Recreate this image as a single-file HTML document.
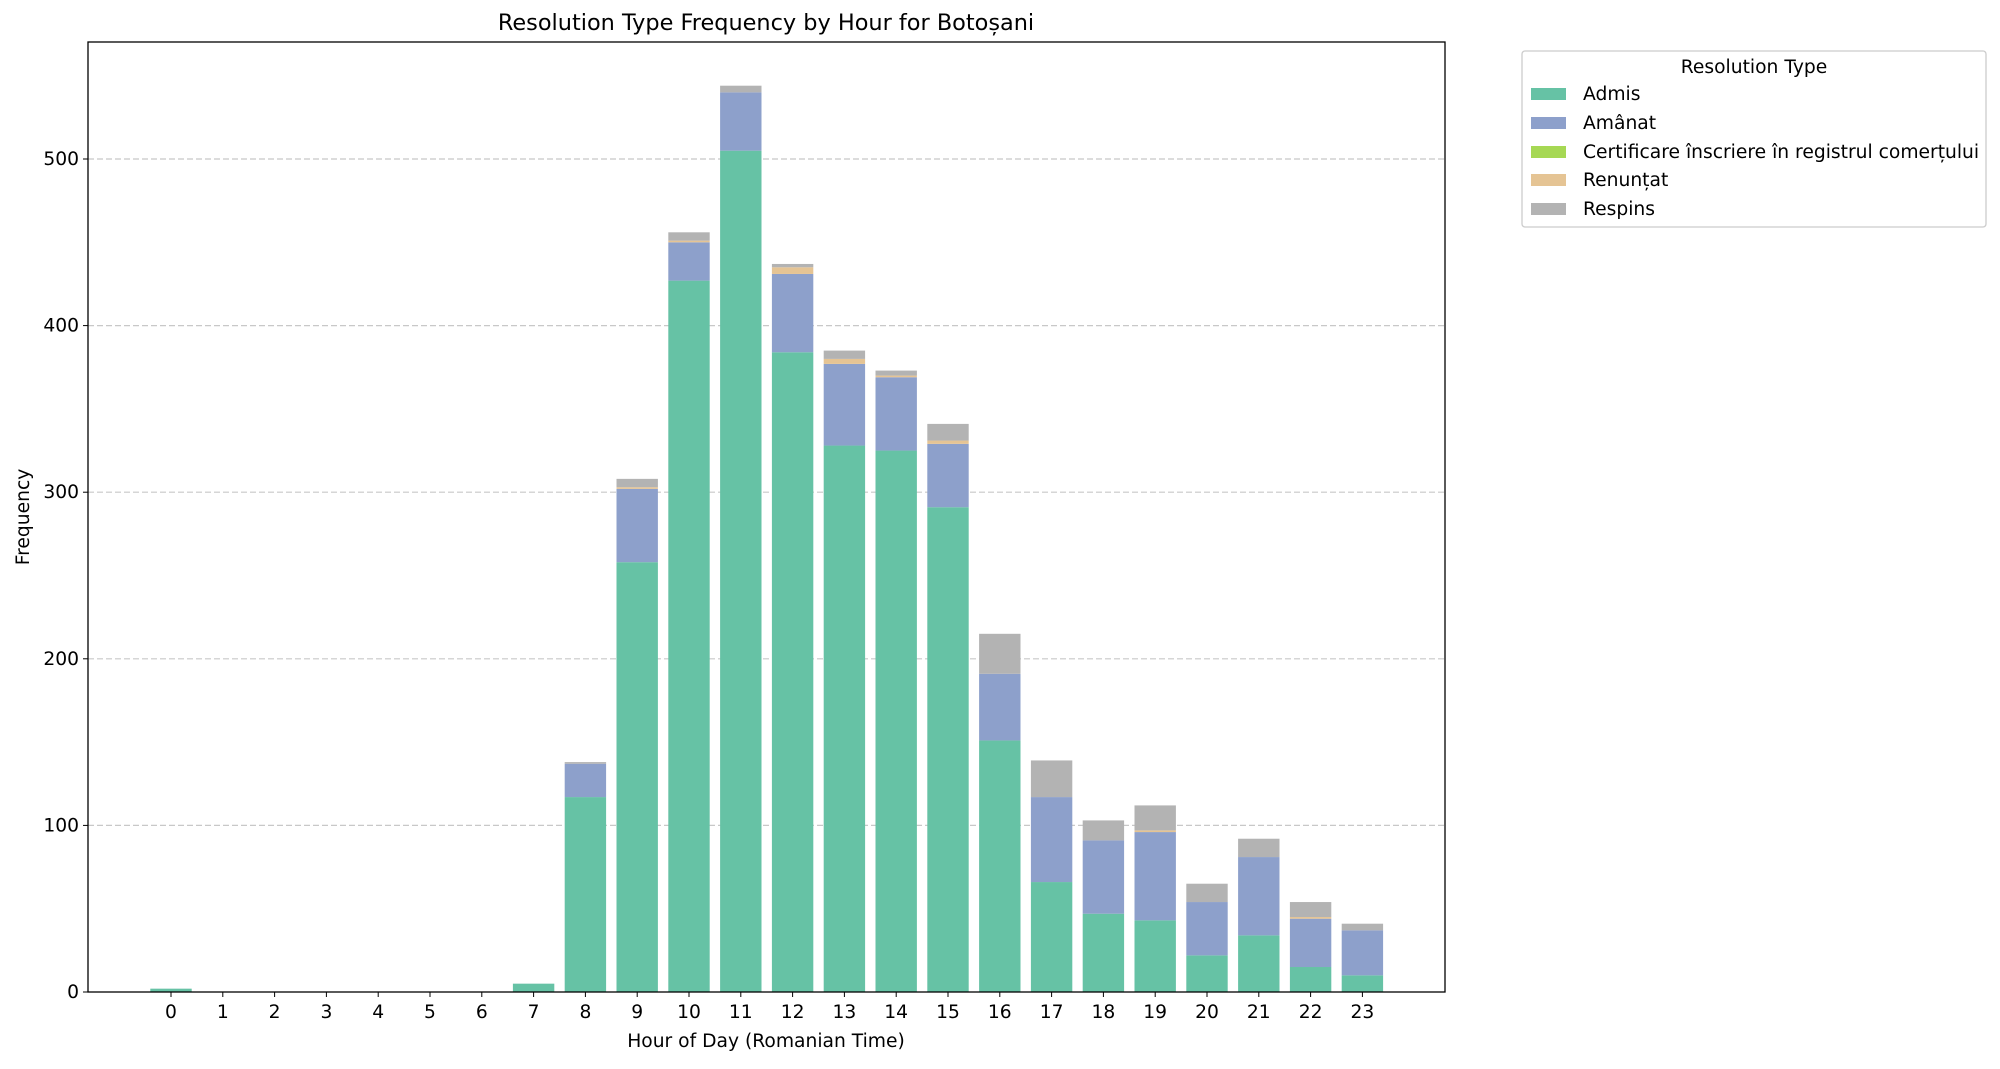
<!DOCTYPE html>
<html><head><meta charset="utf-8"><style>
html,body{margin:0;padding:0;background:#fff;}
svg text{font-family:"DejaVu Sans","Liberation Sans",sans-serif;fill:#000;}
</style></head><body>
<svg id="s" width="2000" height="1064" xmlns="http://www.w3.org/2000/svg">
<rect width="2000" height="1064" fill="#fff"/>
<g id="grid"></g>
<g id="bars"></g>
<rect x="88" y="42" width="1357" height="950" fill="none" stroke="#000" stroke-width="1.3"/>
<g id="ticks"></g>
<text x="766" y="30" font-size="22.4" text-anchor="middle">Resolution Type Frequency by Hour for Botoșani</text>
<text x="766" y="1047" font-size="18.7" text-anchor="middle">Hour of Day (Romanian Time)</text>
<text x="29" y="517" font-size="18.7" text-anchor="middle" transform="rotate(-90 29 517)">Frequency</text>
<g>
<rect x="1522" y="51" width="464" height="176" rx="3" fill="#fff" stroke="#ccc" stroke-width="1.3"/>
<text x="1754" y="73" font-size="18.7" text-anchor="middle">Resolution Type</text>
<rect x="1531" y="88" width="35" height="12" fill="#66c2a5"/><text x="1583" y="100" font-size="18.7">Admis</text>
<rect x="1531" y="117" width="35" height="12" fill="#8da0cb"/><text x="1583" y="129" font-size="18.7">Amânat</text>
<rect x="1531" y="146" width="35" height="12" fill="#a6d854"/><text x="1583" y="158" font-size="18.7">Certificare înscriere în registrul comerțului</text>
<rect x="1531" y="174" width="35" height="12" fill="#e5c494"/><text x="1583" y="186" font-size="18.7">Renunțat</text>
<rect x="1531" y="203" width="35" height="12" fill="#b3b3b3"/><text x="1583" y="215" font-size="18.7">Respins</text>
</g>
</svg>
<script>
var NS="http://www.w3.org/2000/svg";
function el(p,t,a,txt){var e=document.createElementNS(NS,t);for(var k in a)e.setAttribute(k,a[k]);if(txt!==undefined)e.textContent=txt;document.getElementById(p).appendChild(e);}
function Y(v){return 992-v*1.666;}
for(var v=0;v<=500;v+=100){
 if(v>0)el("grid","line",{x1:88,x2:1445,y1:Y(v),y2:Y(v),stroke:"#c8c8c8","stroke-dasharray":"6,3","stroke-width":1.2});
 el("ticks","line",{x1:83,x2:88,y1:Y(v),y2:Y(v),stroke:"#000"});
 el("ticks","text",{x:79,y:Y(v)+6,"font-size":18.7,"text-anchor":"end"},String(v));
}
var d={0:[2,0,0,0],7:[5,0,0,0],8:[117,20,0,1],9:[258,44,1,5],10:[427,23,1,5],11:[505,35,0,4],12:[384,47,4,2],13:[328,49,3,5],14:[325,44,1,3],15:[291,38,2,10],16:[151,40,0,24],17:[66,51,0,22],18:[47,44,0,12],19:[43,53,1,15],20:[22,32,0,11],21:[34,47,0,11],22:[15,29,1,9],23:[10,27,0,4]};
var cols=["#66c2a5","#8da0cb","#e5c494","#b3b3b3"];
for(var h=0;h<24;h++){
 var cx=171+h*51.8;
 el("ticks","line",{x1:cx,x2:cx,y1:992,y2:997,stroke:"#000"});
 el("ticks","text",{x:cx,y:1018,"font-size":18.7,"text-anchor":"middle"},String(h));
 if(d[h]){var b=0;for(var i=0;i<4;i++){var v2=d[h][i];if(v2>0){el("bars","rect",{x:cx-20.7,width:41.4,y:Y(b+v2),height:v2*1.666,fill:cols[i]});}b+=v2;}}
}
</script>
</body></html>
